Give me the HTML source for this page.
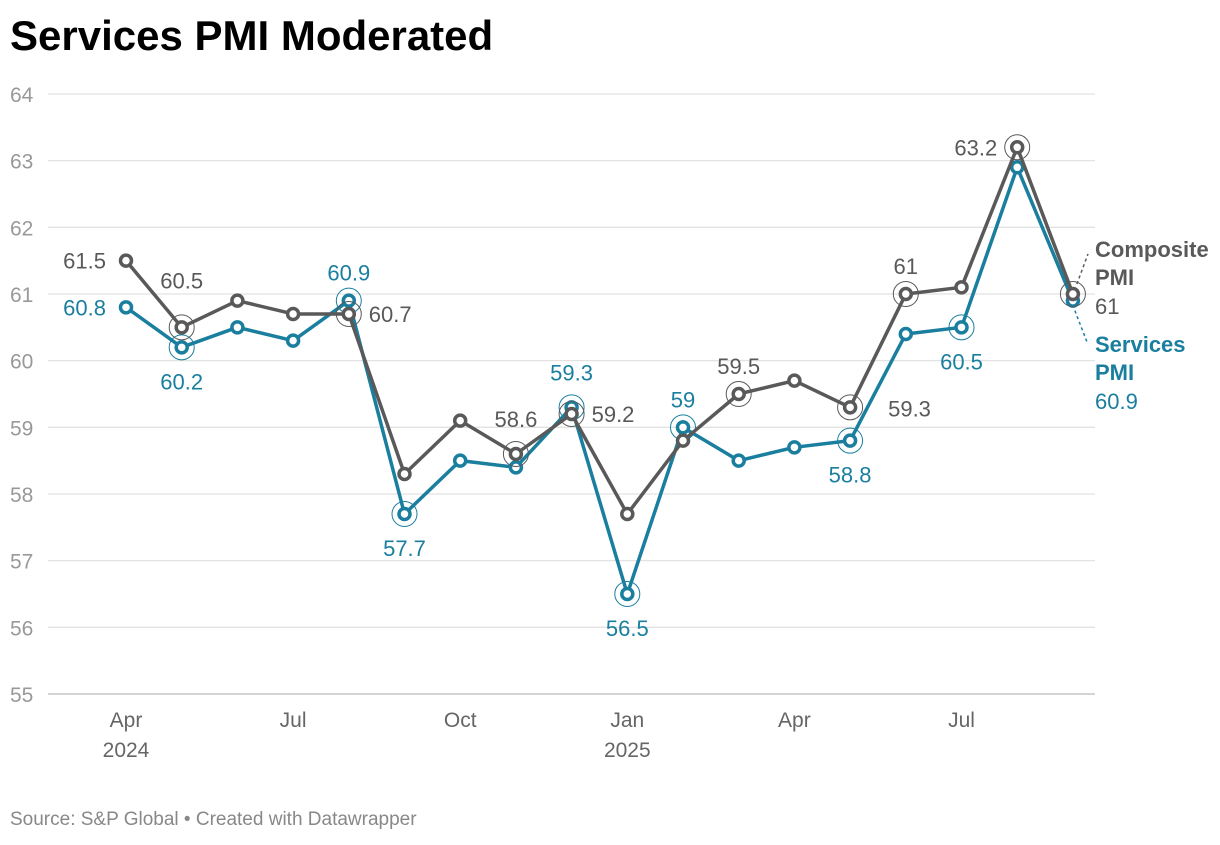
<!DOCTYPE html>
<html><head><meta charset="utf-8"><style>
body{margin:0;background:#fff;width:1220px;height:840px;overflow:hidden;font-family:"Liberation Sans",sans-serif}
</style></head><body>
<svg width="1220" height="840" xmlns="http://www.w3.org/2000/svg" font-family="Liberation Sans, sans-serif">
<text x="10" y="50" font-size="42" font-weight="bold" fill="#000">Services PMI Moderated</text>
<g id="grid"></g><g id="xaxis"></g><g id="lines"></g><g id="labels"></g>
<text x="10" y="825" font-size="19" fill="#888">Source: S&amp;P Global • Created with Datawrapper</text>
</svg>
<script>
const months=["Apr 2024","May 2024","Jun 2024","Jul 2024","Aug 2024","Sep 2024","Oct 2024","Nov 2024","Dec 2024","Jan 2025","Feb 2025","Mar 2025","Apr 2025","May 2025","Jun 2025","Jul 2025","Aug 2025","Sep 2025"];
const composite=[61.5,60.5,60.9,60.7,60.7,58.3,59.1,58.6,59.2,57.7,58.8,59.5,59.7,59.3,61,61.1,63.2,61];
const services=[60.8,60.2,60.5,60.3,60.9,57.7,58.5,58.4,59.3,56.5,59,58.5,58.7,58.8,60.4,60.5,62.9,60.9];
const yTicks=[55,56,57,58,59,60,61,62,63,64];
const xTicks=[[0,"Apr","2024"],[3,"Jul",""],[6,"Oct",""],[9,"Jan","2025"],[12,"Apr",""],[15,"Jul",""]];
const compLabels=[[0,"l"],[1,"tt"],[4,"r"],[7,"t2"],[8,"r"],[11,"t"],[13,"rr"],[14,"t"],[16,"l"]];
const servLabels=[[0,"l"],[1,"b"],[4,"t"],[5,"b"],[8,"t2"],[9,"b"],[10,"t"],[13,"b"],[15,"b"]];
const compRings=[1,4,7,8,11,13,14,16,17];
const servRings=[1,4,5,8,9,10,13,15];
const NS="http://www.w3.org/2000/svg";
const X=i=>126+i*55.7, Y=v=>694-(v-55)*66.67;
function mk(t,a,p){const e=document.createElementNS(NS,t);for(const k in a)e.setAttribute(k,a[k]);p.appendChild(e);return e;}
const G=document.getElementById('grid'),XA=document.getElementById('xaxis'),L=document.getElementById('lines'),LB=document.getElementById('labels');
yTicks.forEach(v=>{
 const l=mk('line',{x1:48,x2:1095,y1:Y(v),y2:Y(v),stroke:v==55?'#bbb':'#e2e2e2','stroke-width':1.3},G);
 
 
 const t=mk('text',{x:10,y:Y(v)+8,'font-size':21,fill:'#999'},G);t.textContent=v;
 
 
});
xTicks.forEach(([i,m,y])=>{
 const t=mk('text',{x:X(i),y:727,'font-size':21,fill:'#666','text-anchor':'middle'},XA);t.textContent=m;
 
 
 if(y){const t2=mk('text',{x:X(i),y:757,'font-size':21,fill:'#666','text-anchor':'middle'},XA);t2.textContent=y;
 
 }
});
function series(data,col,name,rings,labels){
 const p=mk('polyline',{points:data.map((v,i)=>X(i)+','+Y(v)).join(' '),fill:'none',stroke:col,'stroke-width':3.5,'stroke-linejoin':'round'},L);
 
 
 rings.forEach(i=>{const r=mk('circle',{cx:X(i),cy:Y(data[i]),r:12.5,fill:'none',stroke:col,'stroke-width':1},L);
 
 });
 data.forEach((v,i)=>{const c=mk('circle',{cx:X(i),cy:Y(v),r:5.5,fill:'#fff',stroke:col,'stroke-width':3.5},L);
 
 });
 labels.forEach(([i,pos])=>{
  let x=X(i),y=Y(data[i]),a='middle';
  if(pos=='l'){x-=20;y+=8;a='end';}else if(pos=='r'){x+=20;y+=8;a='start';}
  else if(pos=='rr'){x+=38;y+=9;a='start';}
  else if(pos=='t'){y-=20;}else if(pos=='t2'){y-=27;}else if(pos=='tt'){y-=39;}
  else if(pos=='b'){y+=42;}
  const t=mk('text',{x:x,y:y,'font-size':22,fill:col,'text-anchor':a},LB);t.textContent=data[i];
  
  
 });
}
series(services,'#1a7f9f','services',servRings,servLabels);
series(composite,'#595959','composite',compRings,compLabels);
const last=17;
mk('path',{d:`M${X(last)+4},${Y(composite[last])-10} L1088,254`,stroke:'#595959','stroke-dasharray':'3,3',fill:'none','stroke-width':1.5},LB);
mk('path',{d:`M${X(last)+2},${Y(services[last])+10} L1087,342`,stroke:'#1a7f9f','stroke-dasharray':'3,3',fill:'none','stroke-width':1.5},LB);
[["Composite",257,'#595959','bold'],["PMI",285,'#595959','bold'],[composite[last],314,'#595959','normal'],["Services",352,'#1a7f9f','bold'],["PMI",380,'#1a7f9f','bold'],[services[last],409,'#1a7f9f','normal']].forEach(([s,y,c,w])=>{
 const t=mk('text',{x:1095,y:y,'font-size':22,fill:c,'font-weight':w},LB);t.textContent=s;
 
 
});
</script>
</body></html>
